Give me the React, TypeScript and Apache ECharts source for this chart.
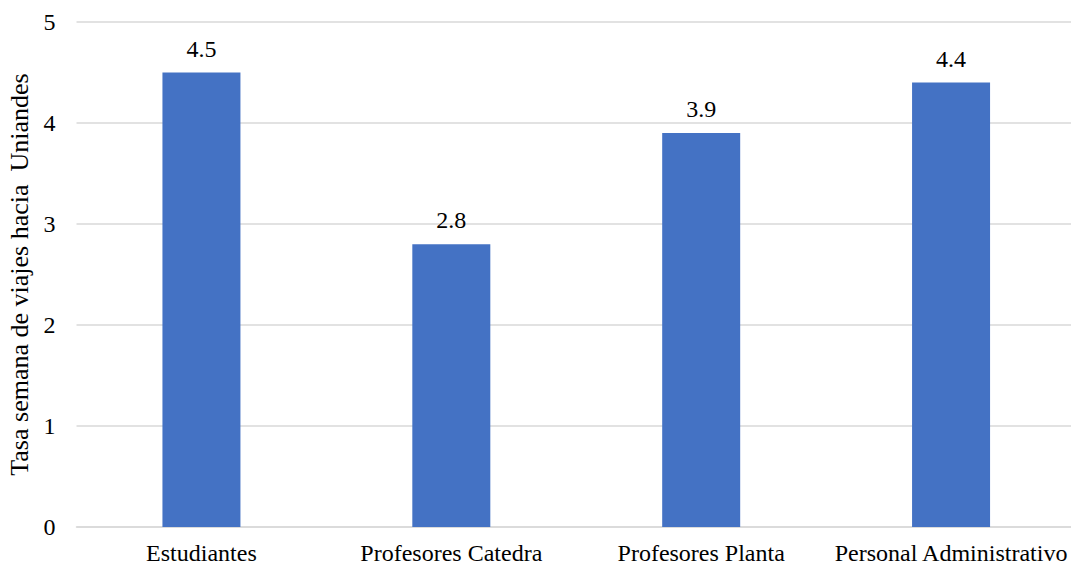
import React, { useEffect, useRef } from "react";
import * as echarts from "echarts";

const categories = [
  "Estudiantes",
  "Profesores Catedra",
  "Profesores Planta",
  "Personal Administrativo",
];
const rates = [4.5, 2.8, 3.9, 4.4];
const yTicks = [0, 1, 2, 3, 4, 5];
const yTitle = "Tasa semana de viajes hacia  Uniandes";

const FONT = "'Liberation Serif', 'Times New Roman', serif";

export default function App() {
  const ref = useRef<HTMLDivElement>(null);

  useEffect(() => {
    if (!ref.current) return;
    const chart = echarts.init(ref.current, undefined, { renderer: "svg" });
    chart.setOption({
      animation: false,
      grid: {
        left: 76.5,
        width: 999.5,
        top: 22,
        height: 505,
        outerBoundsMode: "none",
        containLabel: false,
      },
      xAxis: {
        type: "category",
        data: categories,
        axisLine: { lineStyle: { color: "#d9d9d9", width: 1.5 } },
        axisTick: { show: false },
        axisLabel: {
          interval: 0,
          color: "#000",
          fontFamily: FONT,
          fontSize: 24,
          margin: 14,
        },
      },
      yAxis: {
        type: "value",
        min: yTicks[0],
        max: yTicks[yTicks.length - 1],
        interval: 1,
        name: yTitle,
        nameLocation: "middle",
        nameGap: 41,
        nameTextStyle: { color: "#000", fontFamily: FONT, fontSize: 26 },
        axisLine: { show: false },
        axisTick: { show: false },
        axisLabel: {
          color: "#000",
          fontFamily: FONT,
          fontSize: 24,
          margin: 21,
        },
        splitLine: { lineStyle: { color: "#d9d9d9", width: 1.5 } },
      },
      series: [
        {
          type: "bar",
          data: rates,
          barWidth: 78,
          itemStyle: { color: "#4472C4" },
          label: {
            show: true,
            position: "top",
            distance: 12,
            color: "#000",
            fontFamily: FONT,
            fontSize: 24,
            formatter: (p: any) => Number(p.value).toFixed(1),
          },
        },
      ],
    });
    return () => chart.dispose();
  }, []);

  return (
    <div
      ref={ref}
      style={{ position: "absolute", left: 0, top: 0, width: 1071, height: 565 }}
    />
  );
}
